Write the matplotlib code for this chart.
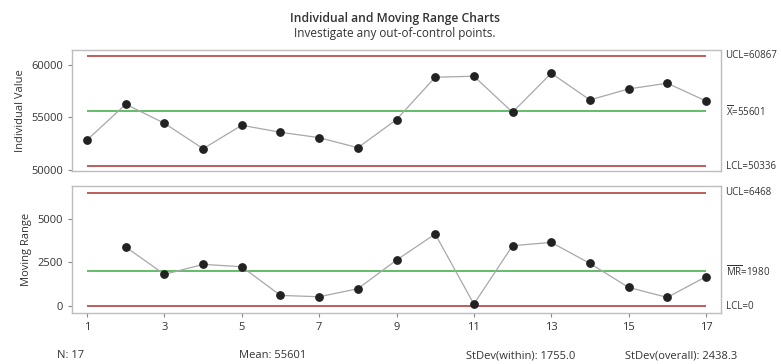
import matplotlib
matplotlib.use("Agg")
from matplotlib import pyplot as plt

plt.rcParams['font.family'] = ['Open Sans', 'DejaVu Sans']
plt.rcParams['mathtext.default'] = 'regular'

# data
obs = list(range(1, 18))
individual = [52857, 56257, 54448, 52029, 54257, 53590, 53079, 52124, 54800,
              58829, 58924, 55495, 59210, 56667, 57714, 58257, 56571]
mr_obs = list(range(2, 18))
moving_range = [3375, 1813, 2385, 2250, 610, 534, 992, 2632,
                4119, 114, 3452, 3642, 2441, 1068, 496, 1678]

i_ucl, i_center, i_lcl = 60867, 55601, 50336
mr_ucl, mr_center, mr_lcl = 6468, 1980, 0
i_ticks = [50000, 55000, 60000]
mr_ticks = [0, 2500, 5000]
x_ticks = [1, 3, 5, 7, 9, 11, 13, 15, 17]
footer = ["N: 17", "Mean: 55601", "StDev(within): 1755.0", "StDev(overall): 2438.3"]

red = '#b9504e'
green = '#55b85a'
grey_line = '#a8a8a8'
txt = '#333333'
frame = '#bdbdbd'

fig = plt.figure(figsize=(7.81, 3.64), dpi=100)
ax1 = fig.add_axes([0.0922, 0.530, 0.831, 0.333])
ax2 = fig.add_axes([0.0922, 0.139, 0.831, 0.350])


def style(ax):
    for s in ax.spines.values():
        s.set_color(frame)
        s.set_linewidth(1.0)
    ax.tick_params(colors=txt, labelsize=8, length=3, color='#888888')
    ax.set_xlim(0.61, 17.39)


# individual chart
ax1.plot(obs, individual, color=grey_line, lw=0.9, zorder=2)
ax1.scatter(obs, individual, s=28, color='#222222', zorder=3)
ax1.hlines([i_ucl, i_lcl], 1, 17, color=red, lw=1.3, zorder=1)
ax1.hlines(i_center, 1, 17, color=green, lw=1.3, zorder=1)
ax1.set_ylim(49900, 61430)
ax1.set_yticks(i_ticks)
ax1.set_xticks([])
ax1.set_ylabel('Individual Value', fontsize=8, color=txt, labelpad=4)
style(ax1)
lab_kw = dict(transform=ax1.get_yaxis_transform(), fontsize=7, color=txt, va='center', ha='left')
ax1.text(1.007, i_ucl, 'UCL=60867', **lab_kw)
ax1.text(1.007, i_center, r'$\overline{X}$=55601', **lab_kw)
ax1.text(1.007, i_lcl, 'LCL=50336', **lab_kw)

# moving range chart
ax2.plot(mr_obs, moving_range, color=grey_line, lw=0.9, zorder=2)
ax2.scatter(mr_obs, moving_range, s=28, color='#222222', zorder=3)
ax2.hlines([mr_ucl, mr_lcl], 1, 17, color=red, lw=1.3, zorder=1)
ax2.hlines(mr_center, 1, 17, color=green, lw=1.3, zorder=1)
ax2.set_ylim(-418, 6865)
ax2.set_yticks(mr_ticks)
ax2.set_xticks(x_ticks)
ax2.set_ylabel('Moving Range', fontsize=8, color=txt, labelpad=4)
style(ax2)
lab_kw = dict(transform=ax2.get_yaxis_transform(), fontsize=7, color=txt, va='center', ha='left')
ax2.text(1.007, mr_ucl, 'UCL=6468', **lab_kw)
ax2.text(1.007, mr_center, r'$\overline{MR}$=1980', **lab_kw)
ax2.text(1.007, mr_lcl, 'LCL=0', **lab_kw)

# titles
fig.text(0.506, 0.950, 'Individual and Moving Range Charts', ha='center', va='center',
         fontsize=8.7, fontweight='semibold', color=txt)
fig.text(0.506, 0.908, 'Investigate any out-of-control points.', ha='center', va='center',
         fontsize=8.5, color=txt)

# footer stats
for x, s in zip([0.073, 0.306, 0.597, 0.800], footer):
    fig.text(x, 0.022, s, ha='left', va='center', fontsize=8, color=txt)

plt.savefig('out.png', dpi=100)
